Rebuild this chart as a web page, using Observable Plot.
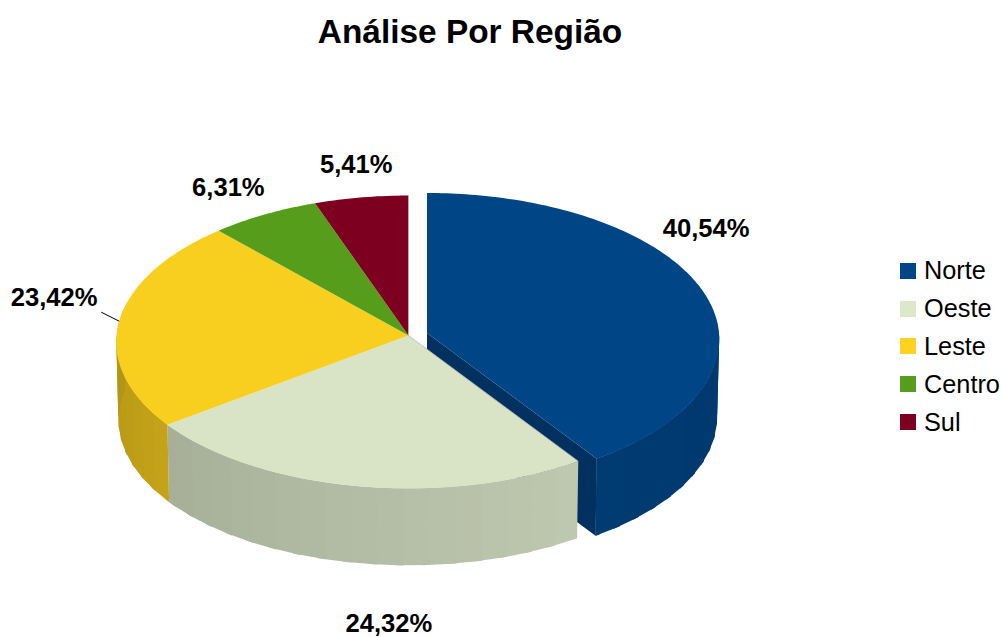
<!DOCTYPE html>
<html><head><meta charset="utf-8">
<script src="https://cdn.jsdelivr.net/npm/d3@7"></script>
<script src="https://cdn.jsdelivr.net/npm/@observablehq/plot@0.6"></script>
<style>
html,body{margin:0;padding:0;background:#fff;font-family:"Liberation Sans",Arial,sans-serif;}
#page{position:relative;width:1001px;height:637px;overflow:hidden;}
#title{height:60px;width:940px;text-align:center;font-weight:bold;font-size:33.4px;line-height:64px;color:#000;}
#legend{position:absolute;left:900px;top:252px;}
.row{display:flex;align-items:center;height:37.8px;font-size:25.3px;color:#000;white-space:nowrap;}
.sw{width:16px;height:16px;margin-right:8px;flex:none;}
svg{display:block;}
</style></head><body>
<div id="page"><div id="title"></div><div id="chart"></div><div id="legend"></div></div>
<script>
const titleText = "Análise Por Região";
const categories = ["Norte","Oeste","Leste","Centro","Sul"];
const values = [40.54,24.32,23.42,6.31,5.41];
const labels = ["40,54%","24,32%","23,42%","6,31%","5,41%"];
const colors = ["#004586","#d9e4c7","#f9cf1f","#579d1c","#7e0021"];
const legendColors = ["#004586","#dde8cb","#ffd320","#579d1c","#7e0021"];

// Pie view: perspective ellipse, extrusion and explosion of the first slice
const view = {cx:408, cy:335, a:292, b:146.2, k:0.0444, depth:78, shrink:0.993, explodeX:18.5, explodeY:-2.5};
// Label offsets from the rim point at each slice's middle
const labelOffset = [[3.5,-61.5],[32,138],[-65,-23],[-36,-27],[-5,-33]];

const rad = d => d*Math.PI/180;
function project(deg, r, i, low){
  const X = r*Math.sin(rad(deg)), Y = r*Math.cos(rad(deg)), w = 1+view.k*Y;
  let dx = view.a*X/w, dy = -view.b*Y/w;
  if (low){ dx*=view.shrink; dy=dy*view.shrink+view.depth; }
  if (i===0){ dx+=view.explodeX; dy+=view.explodeY; }
  return {x:view.cx+dx, y:view.cy+dy};
}
const total = d3.sum(values);
let acc = 0;
const slices = values.map((v,i)=>{ const s={i,start:acc/total*360,end:(acc+v)/total*360}; acc+=v; s.mid=(s.start+s.end)/2; return s; });

function shade(hex,f){ const c=d3.rgb(hex); return d3.rgb(c.r*f,c.g*f,c.b*f).formatHex(); }
function wallFactor(i,deg){
  if(i===0) return 0.85-(146-deg)*0.0006;
  if(i===1) return 0.765+(234-deg)/88*0.115;
  return 0.79-(deg-234)/40*0.07;
}
const polys=[]; let id=0;
function add(points,fill){ id++; points.forEach(p=>polys.push({x:p.x,y:p.y,id,fill})); }

function walls(s){
  const step=5;
  for(let d=s.start;d<s.end-0.01;d+=step){
    const e=Math.min(d+step,s.end);
    if(Math.cos(rad((d+e)/2))>0.12) continue;
    const f=Math.min(e+1.5,s.end); // each band overlaps the next so no seam shows
    add([project(d,1,s.i,false),project(f,1,s.i,false),project(f,1,s.i,true),project(d,1,s.i,true)],
        shade(colors[s.i],wallFactor(s.i,(d+e)/2)));
  }
}
function topFace(s){
  const pts=[project(0,0,s.i,false)];
  for(let d=s.start;d<s.end;d+=1) pts.push(project(d,1,s.i,false));
  pts.push(project(s.end,1,s.i,false));
  add(pts,colors[s.i]);
}
// The exploded slice lies behind everything else, so it goes first
walls(slices[0]);
add([project(0,0,0,false),project(slices[0].end,1,0,false),project(slices[0].end,1,0,true),project(0,0,0,true)],"#00315f");
topFace(slices[0]);
slices.slice(1).forEach(walls);
slices.slice(1).forEach(topFace);

const textStyle={fontFamily:"Liberation Sans",fontWeight:"bold",fontSize:25.6,fill:"#000",stroke:"none"};
const labelMarks=slices.map(s=>{
  const p=project(s.mid,1,s.i,false);
  return Plot.text([{...p,t:labels[s.i]}],{x:"x",y:"y",text:"t",dx:labelOffset[s.i][0],dy:labelOffset[s.i][1],...textStyle});
});
const rim=project(slices[2].mid,1,2,false);
const centre=project(0,0,1,false);
const fringe=[project(slices[1].start,1,1,false),project(0,1,4,false)].map(p=>({x1:centre.x,y1:centre.y,x2:p.x,y2:p.y}));

const plot=Plot.plot({
  width:893,height:577,margin:0,
  x:{domain:[0,893],range:[0,893],axis:null},
  y:{domain:[60,637],range:[0,577],axis:null},
  color:{type:"identity"},
  marks:[
    Plot.line(polys,{x:"x",y:"y",z:"id",fill:"fill",curve:"linear",stroke:"none"}),
    Plot.link(fringe,{x1:"x1",y1:"y1",x2:"x2",y2:"y2",stroke:"#b8b8b8",strokeWidth:0.8}),
    Plot.link([rim],{x1:"x",y1:"y",x2:d=>d.x-18,y2:d=>d.y-9,stroke:"#000",strokeWidth:1}),
    ...labelMarks
  ]
});
document.getElementById("chart").appendChild(plot);
document.getElementById("title").textContent=titleText;
const lg=document.getElementById("legend");
categories.forEach((c,i)=>{
  const r=document.createElement("div");r.className="row";
  const sw=document.createElement("div");sw.className="sw";sw.style.background=legendColors[i];
  r.appendChild(sw);r.appendChild(document.createTextNode(c));lg.appendChild(r);
});
</script></body></html>
